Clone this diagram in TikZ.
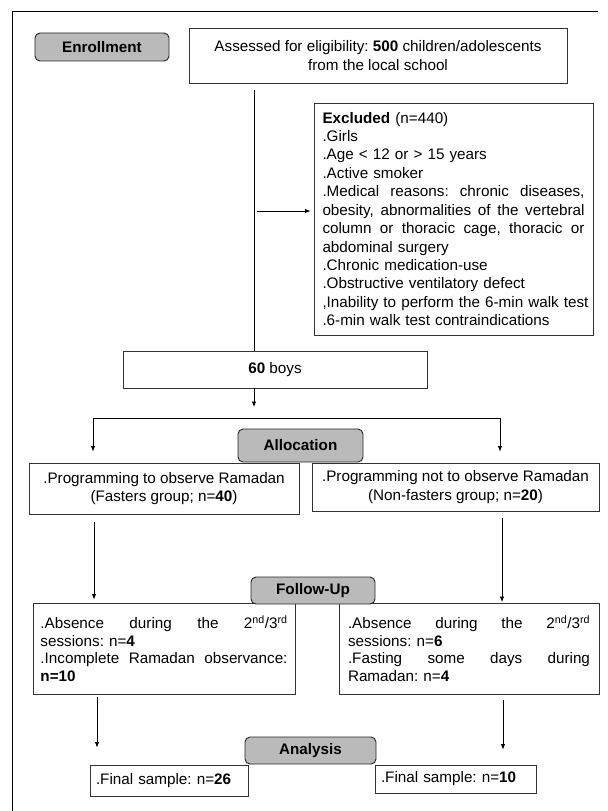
\documentclass[tikz,border=0pt]{standalone}
\usepackage{fontspec}
\setmainfont{Liberation Sans}
\usetikzlibrary{arrows.meta}
\newcommand{\myfs}{\fontsize{15.3}{18.5}\selectfont\frenchspacing}
\newcommand{\myfsb}{\fontsize{15.3}{17.6}\selectfont\frenchspacing}
\newcommand{\JLine}[2]{\leavevmode\hbox to #1{\spaceskip=0.25em plus 1fil\relax #2}}
\begin{document}
\begin{tikzpicture}[x=1bp,y=-1bp,
  box/.style={draw=black!80, line width=0.9bp, fill=white, inner sep=0pt, font=\myfs},
  gbox/.style={draw=black!85, fill=black!27, rounded corners=5bp, line width=0.9bp, inner sep=0pt, font=\myfs\bfseries},
  arr/.style={-{Latex[length=5.5bp,width=4.5bp]}, line width=0.8bp},
  ln/.style={line width=0.8bp}]
\useasboundingbox (0,0) rectangle (608,811);
% frame
\coordinate (fTR) at (598,11);
\coordinate (fTL) at (12,11);
\coordinate (fBL) at (12,811);
\draw[ln] (fTR) -- (fTL) -- (fBL);

% nodes
\node[gbox, minimum width=134bp, minimum height=28bp] (enroll) at (102,47) {Enrollment};
\node[box, minimum width=378bp, minimum height=55bp, align=center] (assess) at (378,55.5)
  {Assessed for eligibility: \textbf{500} children/adolescents\\from the local school};
\node[box, text width=262bp, inner xsep=8.5bp, minimum height=232bp, align=left] (excl) at (453.5,219)
  {\mbox{\textbf{Excluded} (n=440)}\\
   .Girls\\
   .Age {<} 12 or {>} 15 years\\
   .Active smoker\\
   \JLine{262bp}{.Medical reasons: chronic diseases,}\\
   \JLine{262bp}{obesity, abnormalities of the vertebral}\\
   \JLine{262bp}{column or thoracic cage, thoracic or}\\
   abdominal surgery\\
   .Chronic medication-use\\
   .Obstructive ventilatory defect\\
   \mbox{,Inability to perform the 6-min walk test}\\
   .6-min walk test contraindications};
\node[box, minimum width=304bp, minimum height=37bp] (boys) at (275,369.5) {\textbf{60} boys};
\node[box, minimum width=270bp, minimum height=51bp, align=center] (fast) at (164,488.5)
  {.Programming to observe Ramadan\\(Fasters group; n=\textbf{40})};
\node[box, minimum width=287bp, minimum height=48bp, align=center] (nonfast) at (455.5,487)
  {.Programming not to observe Ramadan\\(Non-fasters group; n=\textbf{20})};
\node[gbox, minimum width=125bp, minimum height=33bp] (alloc) at (300.5,445.5) {Allocation};
\node[box, font=\myfsb, text width=247bp, inner xsep=7.5bp, minimum height=91bp, align=left] (fl) at (164,648.5)
  {\JLine{247bp}{.Absence during the 2\textsuperscript{nd}/3\textsuperscript{rd}}\\
   sessions: n=\textbf{4}\\
   \JLine{247bp}{.Incomplete Ramadan observance:}\\
   \textbf{n=10}};
\node[box, font=\myfsb, text width=242bp, inner xsep=9bp, minimum height=91bp, align=left] (fr) at (469,648.5)
  {\JLine{242bp}{.Absence during the 2\textsuperscript{nd}/3\textsuperscript{rd}}\\
   sessions: n=\textbf{6}\\
   \JLine{242bp}{.Fasting some days during}\\
   Ramadan: n=\textbf{4}};
\node[gbox, minimum width=124bp, minimum height=27bp] (follow) at (313,590.5) {Follow-Up};
\node[box, text width=146bp, inner xsep=6bp, minimum height=31bp, align=left] (finL) at (169,780.5)
  {.Final sample: n=\textbf{26}};
\node[box, text width=149bp, inner xsep=6bp, minimum height=28bp, align=left] (finR) at (455.5,779)
  {.Final sample: n=\textbf{10}};
\node[gbox, minimum width=131bp, minimum height=27bp] (analysis) at (310.5,750.5) {Analysis};

% connectors
\coordinate (v0) at (254,90);
\draw[ln] (v0) -- (v0 |- boys.north);
\coordinate (e0) at (257,211);
\draw[arr, shorten >=3bp] (e0) -- (e0 -| excl.west);
\coordinate (hL) at (93,418);
\coordinate (hR) at (500,418);
\draw[arr, shorten >=11bp] (boys.south -| v0) -- (v0 |- hL);
\draw[ln] (hL) -- (hR);
\draw[arr, shorten >=11bp] (hL) -- (hL |- fast.north);
\draw[arr, shorten >=11bp] (hR) -- (hR |- nonfast.north);
\coordinate (l1) at (94,514);
\draw[arr, shorten <=8bp, shorten >=3bp] (l1) -- (l1 |- fl.north);
\coordinate (r1) at (502,511);
\draw[arr, shorten <=7bp, shorten >=0.5bp] (r1) -- (r1 |- fr.north);
\coordinate (l2) at (97,694);
\draw[arr, shorten <=3bp, shorten >=17bp] (l2) -- (l2 |- finL.north);
\coordinate (r2) at (503,694);
\draw[arr, shorten <=6bp, shorten >=15bp] (r2) -- (r2 |- finR.north);
\end{tikzpicture}
\end{document}
